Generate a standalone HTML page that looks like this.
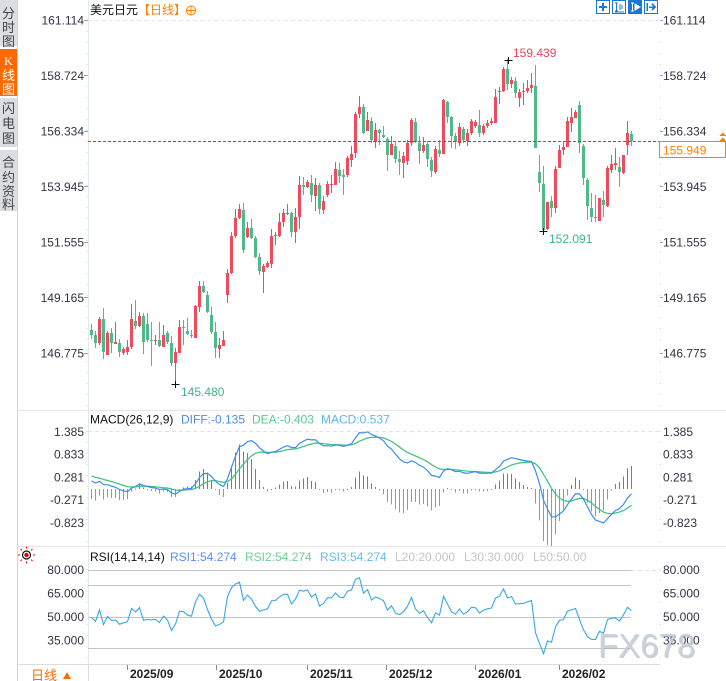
<!DOCTYPE html>
<html><head><meta charset="utf-8">
<style>
html,body{margin:0;padding:0;background:#fff;}
svg{display:block;font-family:"Liberation Sans","Noto Sans CJK SC",sans-serif;}
</style></head>
<body>
<svg id="s" width="726" height="681" viewBox="0 0 726 681" xmlns="http://www.w3.org/2000/svg" shape-rendering="crispEdges">
<rect x="0" y="0" width="726" height="681" fill="#fff"/>
<!-- sidebar -->
<rect x="0" y="0" width="17" height="46" fill="#dcdce3"/>
<rect x="0" y="49" width="17" height="47" fill="#ff6a00"/>
<rect x="0" y="98" width="17" height="49" fill="#dcdce3"/>
<rect x="0" y="150" width="17" height="61" fill="#dcdce3"/>
<line x1="17.5" y1="0" x2="17.5" y2="681" stroke="#d4d4dc"/>
<g font-size="13" fill="#444" text-anchor="middle">
<text x="8.5" y="18">分</text><text x="8.5" y="32">时</text><text x="8.5" y="46">图</text>
<text x="8.5" y="65" fill="#fff" font-size="12" font-family="Liberation Serif">K</text><text x="8.5" y="80" fill="#fff">线</text><text x="8.5" y="94" fill="#fff">图</text>
<text x="8.5" y="113">闪</text><text x="8.5" y="128">电</text><text x="8.5" y="143">图</text>
<text x="8.5" y="167">合</text><text x="8.5" y="182">约</text><text x="8.5" y="196">资</text><text x="8.5" y="209">料</text>
</g>
<!-- frame lines -->
<line x1="88.5" y1="0" x2="88.5" y2="681" stroke="#e2e8ee"/>
<line x1="17" y1="410.5" x2="726" y2="410.5" stroke="#e6e6e6"/>
<line x1="17" y1="546.5" x2="726" y2="546.5" stroke="#e6e6e6"/>
<line x1="17" y1="664.5" x2="660" y2="664.5" stroke="#dcdcdc"/>
<line x1="87" y1="20" x2="87" y2="410" stroke="#c8d0d8" stroke-dasharray="1 10"/>
<line x1="87" y1="431" x2="87" y2="546" stroke="#c8d0d8" stroke-dasharray="1 10"/>
<line x1="87" y1="569" x2="87" y2="664" stroke="#c8d0d8" stroke-dasharray="1 10"/>
<line x1="660.5" y1="20" x2="660.5" y2="410" stroke="#c8d0d8" stroke-dasharray="1 10"/>
<line x1="660.5" y1="431" x2="660.5" y2="546" stroke="#c8d0d8" stroke-dasharray="1 10"/>
<line x1="660.5" y1="569" x2="660.5" y2="664" stroke="#c8d0d8" stroke-dasharray="1 10"/>
<!-- grid -->
<line x1="88" y1="20.5" x2="660" y2="20.5" stroke="#dfe5ea" stroke-dasharray="4 3"/>
<line x1="88" y1="431.5" x2="660" y2="431.5" stroke="#e2e2e2" stroke-dasharray="4 3"/>
<line x1="88" y1="570.5" x2="631" y2="570.5" stroke="#c4c4c4"/>
<line x1="631" y1="570.5" x2="660" y2="570.5" stroke="#dddddd" stroke-dasharray="4 3"/>
<line x1="88" y1="585.5" x2="631" y2="585.5" stroke="#c4c4c4"/>
<line x1="88" y1="617.5" x2="631" y2="617.5" stroke="#c4c4c4"/>
<line x1="88" y1="648.5" x2="631" y2="648.5" stroke="#c4c4c4"/>
<!-- title -->
<text x="90" y="14" font-size="12" fill="#111">美元日元</text>
<text x="138" y="14" font-size="12" fill="#ff8000">【日线】</text>
<circle cx="191" cy="10.5" r="4.5" fill="none" stroke="#ff8000" shape-rendering="auto"/>
<line x1="186.5" y1="10.5" x2="195.5" y2="10.5" stroke="#ff8000"/>
<line x1="191" y1="6" x2="191" y2="15" stroke="#ff8000"/>
<!-- top right icons -->
<rect x="596.5" y="0.5" width="13" height="13" fill="#fff" stroke="#1a78d2"/>
<line x1="599" y1="7" x2="607" y2="7" stroke="#1a78d2" stroke-width="2"/>
<line x1="603" y1="3" x2="603" y2="11" stroke="#1a78d2" stroke-width="2"/>
<rect x="612.5" y="0.5" width="13" height="13" fill="#fff" stroke="#1a78d2"/>
<path d="M615 3h3M616.5 3v8M615 11h3M620 4v6M622 5v4M615 12h9" stroke="#1a78d2" fill="none"/>
<rect x="628" y="0" width="14" height="14" fill="#1a78d2"/>
<path d="M631 3h3M632.5 3v8M631 11h3M635 4l5 3l-5 3z" stroke="#fff" fill="#fff"/>
<rect x="644.5" y="0.5" width="13" height="13" fill="#fff" stroke="#1a78d2"/>
<path d="M647 3v8M649 7h5M652 4l3 3l-3 3" stroke="#1a78d2" fill="none" stroke-width="1.5"/>
<!-- axis labels -->
<g font-size="12" fill="#333344">
<g text-anchor="end">
<text x="84" y="24.3">161.114</text><text x="84" y="79.8">158.724</text><text x="84" y="135.3">156.334</text><text x="84" y="190.8">153.945</text><text x="84" y="246.3">151.555</text><text x="84" y="301.8">149.165</text><text x="84" y="357.3">146.775</text>
<text x="84" y="436">1.385</text><text x="84" y="458.7">0.833</text><text x="84" y="481.4">0.281</text><text x="84" y="504.2">-0.271</text><text x="84" y="526.9">-0.823</text>
<text x="84" y="573.8">80.000</text><text x="84" y="597.3">65.000</text><text x="84" y="620.8">50.000</text><text x="84" y="644.3">35.000</text>
</g>
<text x="663" y="24.3">161.114</text><text x="663" y="79.8">158.724</text><text x="663" y="135.3">156.334</text><text x="663" y="190.8">153.945</text><text x="663" y="246.3">151.555</text><text x="663" y="301.8">149.165</text><text x="663" y="357.3">146.775</text>
<text x="663" y="436">1.385</text><text x="663" y="458.7">0.833</text><text x="663" y="481.4">0.281</text><text x="663" y="504.2">-0.271</text><text x="663" y="526.9">-0.823</text>
<text x="663" y="573.8">80.000</text><text x="663" y="597.3">65.000</text><text x="663" y="620.8">50.000</text><text x="663" y="644.3">35.000</text>
</g>
<g stroke="#9aa4b0">
<line x1="84" y1="20.5" x2="88" y2="20.5"/><line x1="84" y1="75.5" x2="88" y2="75.5"/><line x1="84" y1="131.5" x2="88" y2="131.5"/><line x1="84" y1="186.5" x2="88" y2="186.5"/><line x1="84" y1="242.5" x2="88" y2="242.5"/><line x1="84" y1="297.5" x2="88" y2="297.5"/><line x1="84" y1="353.5" x2="88" y2="353.5"/>
<line x1="660" y1="20.5" x2="663" y2="20.5"/><line x1="660" y1="75.5" x2="663" y2="75.5"/><line x1="660" y1="131.5" x2="663" y2="131.5"/><line x1="660" y1="186.5" x2="663" y2="186.5"/><line x1="660" y1="242.5" x2="663" y2="242.5"/><line x1="660" y1="297.5" x2="663" y2="297.5"/><line x1="660" y1="353.5" x2="663" y2="353.5"/>
</g>
<!-- series -->
<g id="candles"></g>
<g id="macd"></g>
<g id="rsi"></g>
<!-- current price line -->
<line x1="88" y1="141.5" x2="660" y2="141.5" stroke="#1c6fd8" stroke-dasharray="3 2"/>
<rect x="659.5" y="141.5" width="66" height="16" fill="#fff" stroke="#ff8000"/>
<text x="663" y="154.3" font-size="12" fill="#ff8000">155.949</text>
<path d="M719 136l3.5-3.5l3.5 3.5zM719 141l3.5-3.5l3.5 3.5z" fill="#ff8000"/>
<!-- hi/lo markers -->
<path d="M504.5 60.5h8M508.5 57v7" stroke="#111"/>
<text x="513" y="57" font-size="12" fill="#e8445a">159.439</text>
<path d="M539.5 231.5h8M543.5 228v7" stroke="#111"/>
<text x="549" y="243" font-size="12" fill="#3fb48c">152.091</text>
<path d="M171.5 384.5h8M175.5 381v7" stroke="#111"/>
<text x="181" y="396" font-size="12" fill="#3fb48c">145.480</text>
<!-- MACD title -->
<g font-size="12">
<text x="90" y="423.5" fill="#111">MACD(26,12,9)</text>
<text x="181" y="423.5" fill="#4a8ee8">DIFF:-0.135</text>
<text x="252" y="423.5" fill="#5cc890">DEA:-0.403</text>
<text x="321" y="423.5" fill="#5ab8e8">MACD:0.537</text>
<text x="90" y="561" fill="#111">RSI(14,14,14)</text>
<text x="170" y="561" fill="#5b8ef0">RSI1:54.274</text>
<text x="245" y="561" fill="#6ccf96">RSI2:54.274</text>
<text x="320" y="561" fill="#66bde8">RSI3:54.274</text>
<text x="395" y="561" fill="#c4c4c4">L20:20.000</text>
<text x="464" y="561" fill="#c4c4c4">L30:30.000</text>
<text x="533" y="561" fill="#c4c4c4">L50:50.00</text>
</g>
<!-- sun icon -->
<g shape-rendering="auto">
<circle cx="26.5" cy="555" r="4" fill="#fff" stroke="#111" stroke-width="1.2"/>
<circle cx="26.5" cy="555" r="2.2" fill="#e00"/>
<path d="M26.5 548.5v-2M26.5 561.5v2M20 555h-2M33 555h2M21.9 550.4l-1.4-1.4M31.1 559.6l1.4 1.4M21.9 559.6l-1.4 1.4M31.1 550.4l1.4-1.4" stroke="#e00" stroke-width="1"/>
</g>
<!-- bottom axis -->
<line x1="88.5" y1="664" x2="88.5" y2="681" stroke="#dcdcdc"/>
<text x="31" y="680" font-size="13" fill="#ff6a00">日线</text>
<path d="M63 679l4-7l4 7z" fill="#ff6a00"/>
<g stroke="#888">
<line x1="127.5" y1="665" x2="127.5" y2="670"/><line x1="216.5" y1="665" x2="216.5" y2="670"/><line x1="307.5" y1="665" x2="307.5" y2="670"/><line x1="386.5" y1="665" x2="386.5" y2="670"/><line x1="475.5" y1="665" x2="475.5" y2="670"/><line x1="559.5" y1="665" x2="559.5" y2="670"/>
</g>
<g font-size="12" font-weight="bold" fill="#222">
<text x="130" y="678">2025/09</text><text x="219" y="678">2025/10</text><text x="310" y="678">2025/11</text><text x="389" y="678">2025/12</text><text x="478" y="678">2026/01</text><text x="562" y="678">2026/02</text>
</g>
<!-- watermark -->
<g font-size="33" shape-rendering="auto">
<text x="599" y="658" fill="#8a94a0" opacity="0.45">FX678</text>
<text x="598" y="657" fill="#c9d1dc" opacity="0.9">FX678</text>
</g>
</svg>
<script>
(function(){
var D=[
['g',330,335,324,339],['g',335,343,331,348],['r',319,343,317,345],['g',319,352,308,359],['r',333,355,331,355],
['g',333,343,328,353],['r',342,344,322,344],['g',343,352,339,357],['r',349,353,347,355],['r',347,352,340,355],
['r',319,347,304,349],['g',321,326,300,329],['r',316,326,312,327],['g',316,342,313,354],['g',324,340,313,342],
['g',340,341,322,366],['r',340,341,335,345],['g',340,346,322,347],['r',335,347,325,347],['g',333,342,331,344],
['g',343,363,336,366],['r',352,363,348,384],['r',327,353,320,353],['g',327,328,320,345],['g',331,334,318,335],
['g',335,336,330,338],['r',306,338,305,338],['r',286,307,281,312],['g',286,292,281,293],['g',295,312,291,313],
['g',315,332,307,334],['g',332,348,322,358],['r',345,349,338,358],['r',340,346,331,346],['r',273,295,269,303],
['r',236,273,232,274],['r',218,236,209,238],['r',209,218,204,219],['g',210,250,203,253],['r',228,237,222,238],
['g',228,238,219,239],['g',238,257,236,258],['g',257,271,253,275],['r',266,272,264,293],['r',263,267,261,268],
['r',236,264,229,268],['r',235,236,232,245],['r',222,236,213,237],['r',213,222,209,227],['r',213,214,204,215],
['g',213,232,212,237],['r',217,232,208,243],['r',185,217,176,229],['g',185,187,177,195],['r',182,187,180,188],
['g',183,195,175,202],['r',185,196,178,211],['g',185,209,183,214],['r',201,210,196,214],['r',184,195,181,197],
['r',184,185,175,193],['r',169,185,162,185],['g',170,176,163,183],['g',175,177,169,195],['r',158,175,156,177],
['r',154,160,146,167],['r',114,153,112,158],['r',107,114,96,118],['g',107,133,104,134],['r',120,131,112,131],
['g',121,140,117,143],['r',130,142,123,148],['g',130,133,129,145],['g',135,137,126,138],['g',139,155,137,171],
['r',144,155,136,155],['g',146,159,142,163],['g',159,162,151,175],['r',156,163,152,178],['r',143,161,140,165],
['r',120,143,118,146],['g',122,142,118,143],['g',143,151,136,164],['r',145,151,137,153],['g',144,159,141,167],
['g',160,171,157,177],['r',149,172,146,174],['g',150,154,140,157],['r',100,154,99,154],['g',102,117,101,123],
['g',117,136,116,148],['g',136,142,133,149],['r',127,143,123,146],['g',129,140,127,143],['r',133,141,129,146],
['r',121,133,119,135],['r',122,126,120,128],['g',125,133,110,137],['r',126,133,124,135],['r',123,126,120,128],
['r',121,123,118,125],['r',97,123,89,123],['r',91,92,87,104],['r',69,91,67,92],['g',69,84,59,90],
['r',80,84,77,88],['g',81,93,77,98],['r',92,98,89,107],['r',91,92,83,105],['r',88,91,80,93],
['r',85,88,73,93],['g',86,148,65,148],['g',172,183,155,192],['g',184,230,166,231],['r',202,229,202,230],
['g',201,208,196,217],['r',169,208,166,213],['r',150,168,145,168],['r',147,150,142,155],['r',121,147,117,147],
['r',117,123,108,132],['r',112,118,110,118],['g',105,143,101,153],['g',146,178,144,185],['g',180,206,178,220],
['g',208,217,193,222],['g',217,218,195,222],['r',198,221,198,221],['g',200,205,191,217],['r',168,206,166,207],
['r',164,170,155,173],['r',163,165,148,170],['g',167,172,157,187],['r',155,173,155,174],['r',133,145,121,155],
['g',134,141,131,146]
];
var R='#ef4b5d',G='#4fb98a';
var s='';
var closes=[];
for(var k=0;k<D.length;k++){
  var c=D[k],x=90+4*k,col=c[0]=='r'?R:G;
  s+='<rect x="'+(x+1)+'" y="'+c[3]+'" width="1" height="'+Math.max(1,c[4]-c[3])+'" fill="'+col+'"/>';
  s+='<rect x="'+x+'" y="'+c[1]+'" width="3" height="'+Math.max(1,c[2]-c[1])+'" fill="'+col+'"/>';
  var cy=c[0]=='r'?c[1]:c[2];
  closes.push(161.114-(cy-20)/23.22);
}
document.getElementById('candles').innerHTML=s;
// MACD
var c0=closes[0],e12=c0+0.098,e26=c0-0.098,dif=0.196,dea=0.317;
var difs=[dif],deas=[dea];
for(var k=1;k<closes.length;k++){
  var cc=closes[k];
  e12=(2*cc+11*e12)/13; e26=(2*cc+25*e26)/27; dif=e12-e26; dea=(2*dif+8*dea)/10;
  difs.push(dif);deas.push(dea);
}
function ym(v){return 489-v*41.2;}
var m='',pd='',pe='';
for(var k=0;k<closes.length;k++){
  var h=2*(difs[k]-deas[k]);var x=91+4*k;
  var y0=ym(0),y1=ym(h);
  var top=Math.min(y0,y1),hh=Math.max(1,Math.abs(y1-y0));
  m+='<rect x="'+x+'" y="'+top.toFixed(1)+'" width="1" height="'+hh.toFixed(1)+'" fill="'+(h>=0?'#e64a5e':'#5ab88a')+'"/>';
  pd+=(k?' ':'')+(91.5+4*k)+','+ym(difs[k]).toFixed(1);
  pe+=(k?' ':'')+(91.5+4*k)+','+ym(deas[k]).toFixed(1);
}
m+='<polyline points="'+pe+'" fill="none" stroke="#3cc07a" stroke-width="1.2" shape-rendering="auto"/>';
m+='<polyline points="'+pd+'" fill="none" stroke="#3b8ef0" stroke-width="1.2" shape-rendering="auto"/>';
document.getElementById('macd').innerHTML=m;
// RSI
var ag=0.25,al=0.25,pr='';
for(var k=0;k<closes.length;k++){
  if(k>0){var d=closes[k]-closes[k-1];ag=(Math.max(d,0)+13*ag)/14;al=(Math.max(-d,0)+13*al)/14;}
  var r=100*ag/(ag+al);
  pr+=(k?' ':'')+(91.5+4*k)+','+(570+(80-r)*1.58).toFixed(1);
}
document.getElementById('rsi').innerHTML='<polyline points="'+pr+'" fill="none" stroke="#38a8e0" stroke-width="1.1" shape-rendering="auto"/>';
})();
</script>
</body></html>
